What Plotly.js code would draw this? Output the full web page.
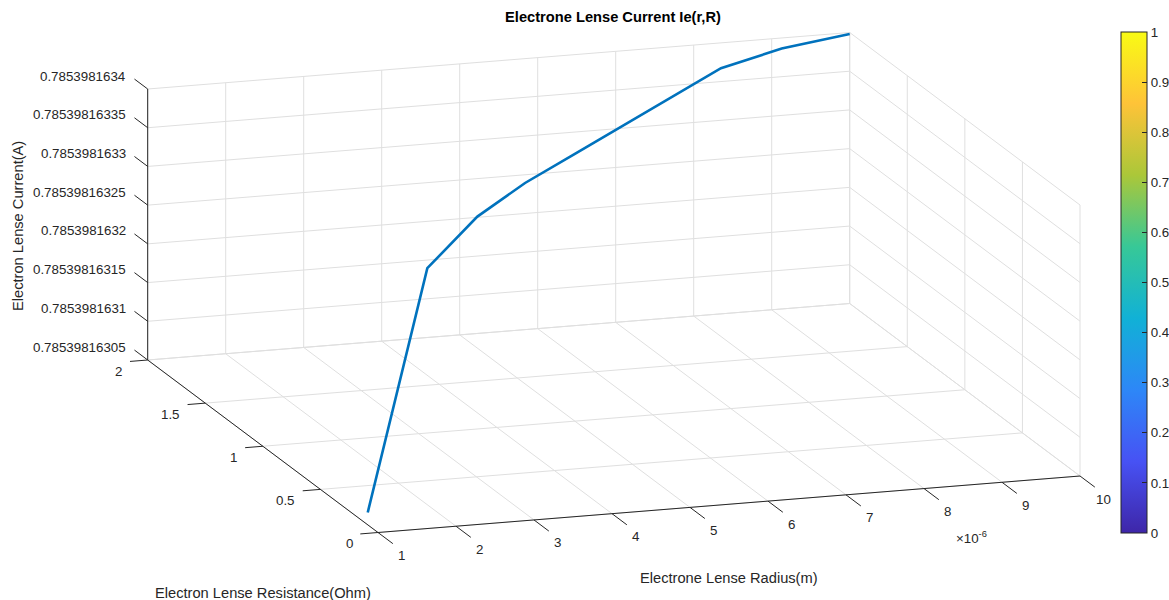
<!DOCTYPE html>
<html>
<head>
<meta charset="utf-8">
<script src="https://cdn.plot.ly/plotly-3.0.1.min.js"></script>
<style>html,body{margin:0;padding:0;background:#fff;}#chart{width:1169px;height:600px;}</style>
</head>
<body>
<div id="chart"></div>
<script>
// ---- Data ----
const radius = [1e-6, 2e-6, 3e-6, 4e-6, 5e-6, 6e-6, 7e-6, 8e-6, 9e-6, 10e-6];          // m
const resistance = [0.089, 0.249, 0.492, 0.755, 1.007, 1.259, 1.511, 1.763, 1.913, 2.0]; // Ohm
const current = [0.785398163066, 0.7853981633555, 0.785398163387, 0.785398163393,
                 0.7853981633939, 0.7853981633948, 0.7853981633956, 0.7853981633965,
                 0.785398163397, 0.785398163398];                                         // A
const xTicks = [1, 2, 3, 4, 5, 6, 7, 8, 9, 10];           // ×1e-6 m
const yTicks = [0, 0.5, 1, 1.5, 2];
const zTicks = [0.78539816305, 0.7853981631, 0.78539816315, 0.7853981632,
                0.78539816325, 0.7853981633, 0.78539816335, 0.7853981634];
const cbTicks = [0, 0.1, 0.2, 0.3, 0.4, 0.5, 0.6, 0.7, 0.8, 0.9, 1];

// ---- 3D box scales (orthographic view like MATLAB, az/el fitted to the reference) ----
const xScale = 1e-6;
const xMin = xTicks[0], xMax = xTicks[xTicks.length - 1];
const yMin = yTicks[0], yMax = yTicks[yTicks.length - 1];
const zBase = zTicks[0], zStep = zTicks[1] - zTicks[0];
const zN = v => (v - zBase) / zStep;             // z in tick steps (avoids precision loss)
const zMin = 0, zMax = zN(zTicks[zTicks.length - 1]);

const O  = [378, 532.5];        // screen position of (xMin, yMin, zMin)
const UX = [78.0, -6.278];      // screen vector per 1 unit of x (µm)
const UY = [-115.15, -86.25];   // screen vector per 1 unit of y (Ohm)
const UZ = [0, -38.714];        // screen vector per 1 z step
function P(x, y, z) {
  return [O[0] + (x - xMin) * UX[0] + (y - yMin) * UY[0] + (z - zMin) * UZ[0],
          O[1] + (x - xMin) * UX[1] + (y - yMin) * UY[1] + (z - zMin) * UZ[1]];
}
function segs(list) {
  const xs = [], ys = [];
  list.forEach(s => { const a = P(...s[0]), b = P(...s[1]); xs.push(a[0], b[0], null); ys.push(a[1], b[1], null); });
  return {xs, ys};
}

const gridSegs = [];
const zT = zTicks.map(zN);
// back wall y = yMax
xTicks.forEach(x => gridSegs.push([[x, yMax, zMin], [x, yMax, zMax]]));
zT.forEach(z => gridSegs.push([[xMin, yMax, z], [xMax, yMax, z]]));
// right wall x = xMax
yTicks.forEach(y => gridSegs.push([[xMax, y, zMin], [xMax, y, zMax]]));
zT.forEach(z => gridSegs.push([[xMax, yMin, z], [xMax, yMax, z]]));
// floor z = zMin
xTicks.forEach(x => gridSegs.push([[x, yMin, zMin], [x, yMax, zMin]]));
yTicks.forEach(y => gridSegs.push([[xMin, y, zMin], [xMax, y, zMin]]));

const axSegs = [
  [[xMin, yMin, zMin], [xMax, yMin, zMin]],
  [[xMin, yMin, zMin], [xMin, yMax, zMin]],
  [[xMin, yMax, zMin], [xMin, yMax, zMax]]
];
const xTickLen = 0.129, yTickLen = 0.227, zTickLen = 0.115;
xTicks.forEach(x => axSegs.push([[x, yMin, zMin], [x, yMin - xTickLen, zMin]]));
yTicks.forEach(y => axSegs.push([[xMin, y, zMin], [xMin - yTickLen, y, zMin]]));
zT.forEach(z => axSegs.push([[xMin, yMax, z], [xMin, yMax + zTickLen, z]]));

const g = segs(gridSegs), a = segs(axSegs);
const pts = radius.map((r, i) => P(r / xScale, resistance[i], zN(current[i])));

const parula = [
  [0, '#3E26A8'], [0.1429, '#4752F4'], [0.2857, '#2D87F7'], [0.4286, '#11B1D6'],
  [0.5714, '#37C897'], [0.7143, '#ABC739'], [0.8571, '#FEC338'], [1, '#F9FB14']
];
const FAM = 'Liberation Sans, Arial, Helvetica, sans-serif';
const tickFont = {family: FAM, size: 13.33, color: '#262626'};
const labelFont = {family: FAM, size: 14.67, color: '#262626'};

const traces = [
  {type: 'scatter', mode: 'lines', x: g.xs, y: g.ys, line: {color: '#dfdfdf', width: 1},
   hoverinfo: 'skip', showlegend: false},
  {type: 'scatter', mode: 'lines', x: a.xs, y: a.ys, line: {color: '#262626', width: 1},
   hoverinfo: 'skip', showlegend: false},
  {type: 'scatter', mode: 'lines', x: pts.map(p => p[0]), y: pts.map(p => p[1]),
   line: {color: '#0072BD', width: 2.6}, hoverinfo: 'skip', showlegend: false},
  {type: 'scatter', mode: 'markers', x: [-100], y: [-100],
   marker: {size: 1, opacity: 0, color: [0.5], cmin: 0, cmax: 1, colorscale: parula, showscale: true,
     colorbar: {
       x: 1121 / 1169, xanchor: 'left', y: 67 / 600, yanchor: 'bottom',
       len: 501, lenmode: 'pixels', thickness: 26, thicknessmode: 'pixels',
       outlinecolor: '#262626', outlinewidth: 1, ticks: 'inside', ticklen: 5, tickcolor: '#262626',
       tickvals: cbTicks, ticktext: cbTicks.map(String), tickfont: tickFont, xpad: 0, ypad: 0
     }},
   hoverinfo: 'skip', showlegend: false}
];

const ann = [];
xTicks.forEach(x => { const p = P(x, yMin, zMin);
  ann.push({x: p[0] + 23.5, y: p[1] + 23, text: String(x), xanchor: 'center', yanchor: 'middle'}); });
yTicks.forEach(y => { const p = P(xMin, y, zMin);
  ann.push({x: p[0] - 23.5, y: p[1] + 11, text: String(y), xanchor: 'right', yanchor: 'middle'}); });
zTicks.forEach(z => { const p = P(xMin, yMax, zN(z));
  ann.push({x: p[0] - 20, y: p[1] - 13, text: String(z), xanchor: 'right', yanchor: 'middle'}); });
ann.forEach(o => { o.xref = 'x'; o.yref = 'y'; o.showarrow = false; o.font = tickFont; });
ann.push(
  {text: '×10<sup>-6</sup>', xref: 'x', yref: 'y', x: 971, y: 537, showarrow: false,
   xanchor: 'center', yanchor: 'middle', font: tickFont},
  {text: 'Electron Lense Current(A)', xref: 'x', yref: 'y', x: 18, y: 226, textangle: -90,
   showarrow: false, xanchor: 'center', yanchor: 'middle', font: labelFont},
  {text: 'Electron Lense Resistance(Ohm)', xref: 'x', yref: 'y', x: 263, y: 593,
   showarrow: false, xanchor: 'center', yanchor: 'middle', font: labelFont},
  {text: 'Electrone Lense Radius(m)', xref: 'x', yref: 'y', x: 729, y: 578,
   showarrow: false, xanchor: 'center', yanchor: 'middle', font: labelFont}
);

const layout = {
  width: 1169, height: 600,
  margin: {l: 0, r: 0, t: 0, b: 0, autoexpand: false},
  paper_bgcolor: '#fff', plot_bgcolor: 'rgba(0,0,0,0)',
  font: tickFont, hovermode: false,
  title: {text: '<b>Electrone Lense Current Ie(r,R)</b>', x: 613 / 1169, xanchor: 'center',
          y: 1 - 16.5 / 600, yanchor: 'middle', font: {family: FAM, size: 14.67, color: '#000'}},
  xaxis: {range: [0, 1169], visible: false, fixedrange: true},
  yaxis: {range: [600, 0], visible: false, fixedrange: true},
  annotations: ann
};

Plotly.newPlot('chart', traces, layout, {displayModeBar: false, staticPlot: true});
</script>
</body>
</html>
